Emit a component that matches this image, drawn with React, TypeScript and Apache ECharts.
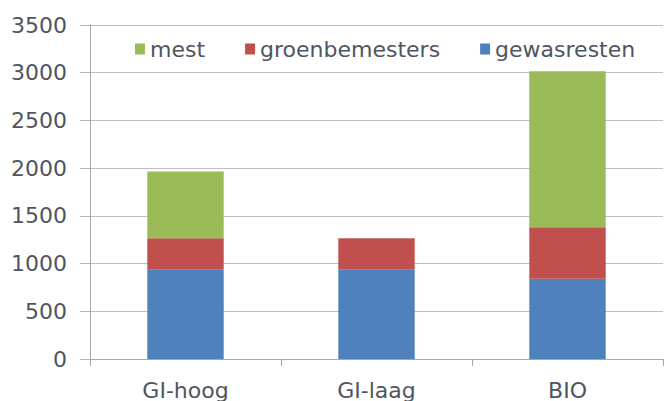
import React, { useEffect, useRef } from "react";
import * as echarts from "echarts";

const categories = ["GI-hoog", "GI-laag", "BIO"];
const gewasresten = [935, 935, 840];
const groenbemesters = [330, 330, 540];
const mest = [700, 0, 1635];
const legendNames = ["mest", "groenbemesters", "gewasresten"];

const FONT = "DejaVu Sans, Verdana, sans-serif";
const TEXT = "#4f5562";

export default function App() {
  const ref = useRef<HTMLDivElement>(null);
  useEffect(() => {
    if (!ref.current) return;
    const chart = echarts.init(ref.current, null, { renderer: "svg" });
    chart.setOption({
      animation: false,
      backgroundColor: "#ffffff",
      textStyle: { fontFamily: FONT },
      grid: { left: 90, right: 2, top: 25, bottom: 41.5, containLabel: false },
      legend: {
        data: legendNames,
        left: 130,
        top: 33,
        itemWidth: 10,
        itemHeight: 11,
        itemGap: 40,
        icon: "rect",
        textStyle: { fontFamily: FONT, fontSize: 22, color: TEXT },
      },
      xAxis: {
        type: "category",
        data: categories,
        axisLine: { show: true, lineStyle: { color: "#a6a6a6", width: 1 } },
        axisTick: { show: true, length: 7, lineStyle: { color: "#a6a6a6" } },
        axisLabel: { color: TEXT, fontFamily: FONT, fontSize: 22, margin: 20 },
      },
      yAxis: {
        type: "value",
        min: 0,
        max: 3500,
        interval: 500,
        axisLine: { show: true, lineStyle: { color: "#a6a6a6", width: 1 } },
        axisTick: { show: true, length: 10, lineStyle: { color: "#b4b4b4" } },
        splitLine: { show: true, lineStyle: { color: "#bdbdbd", width: 1 } },
        axisLabel: {
          color: TEXT,
          fontFamily: FONT,
          fontSize: 22,
          margin: 23,
          formatter: (v: number) => String(v),
        },
      },
      series: [
        {
          name: "gewasresten",
          type: "bar",
          stack: "total",
          barWidth: "40%",
          data: gewasresten,
          itemStyle: { color: "#4f81bd" },
        },
        {
          name: "groenbemesters",
          type: "bar",
          stack: "total",
          barWidth: "40%",
          data: groenbemesters,
          itemStyle: { color: "#c0504d" },
        },
        {
          name: "mest",
          type: "bar",
          stack: "total",
          barWidth: "40%",
          data: mest,
          itemStyle: { color: "#9bbb59" },
        },
      ],
    });
    return () => chart.dispose();
  }, []);
  return (
    <div
      ref={ref}
      style={{ position: "absolute", left: 0, top: 0, width: 665, height: 401 }}
    />
  );
}
